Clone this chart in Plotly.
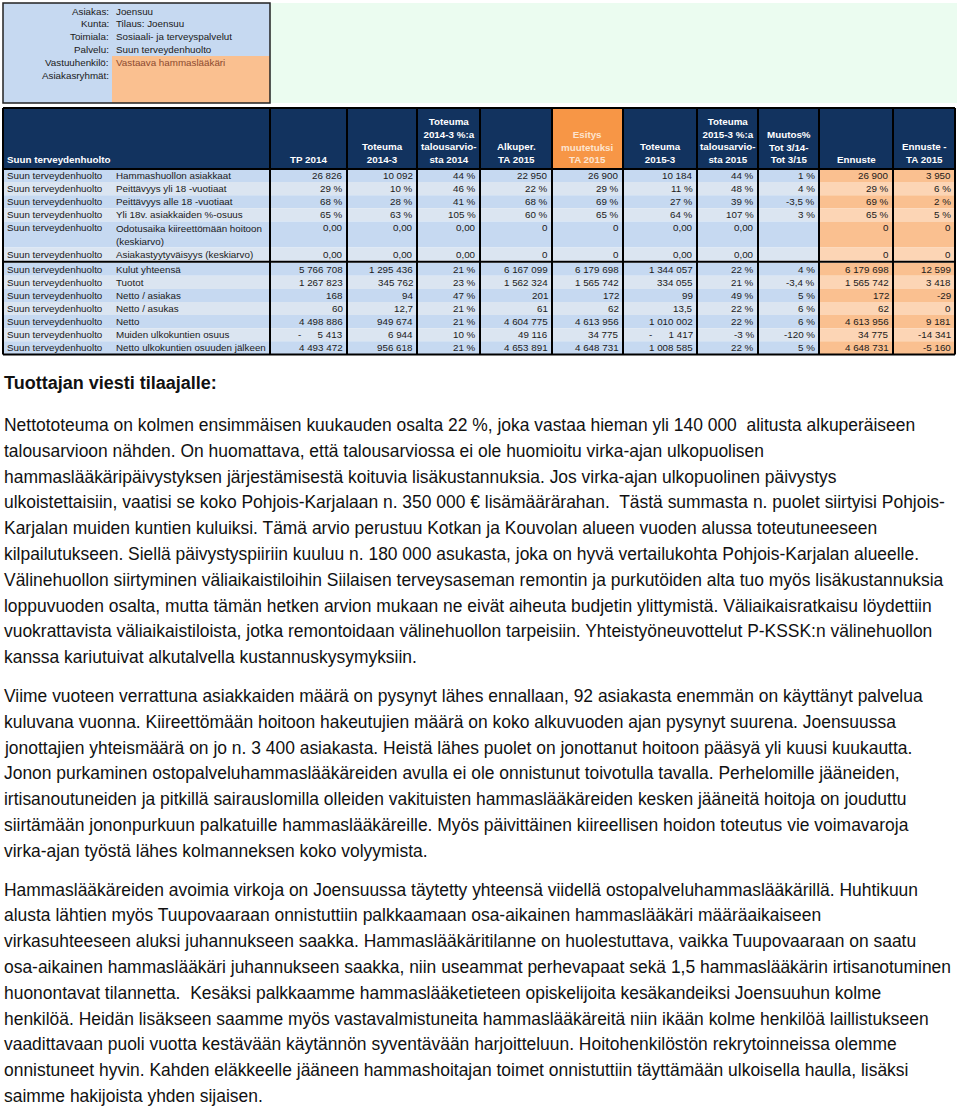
import plotly.graph_objects as go

# ---------------- data ----------------
info_labels = ["Asiakas:", "Kunta:", "Toimiala:", "Palvelu:", "Vastuuhenkilö:", "Asiakasryhmät:"]
info_values = ["Joensuu", "Tilaus: Joensuu", "Sosiaali- ja terveyspalvelut",
               "Suun terveydenhuolto", "Vastaava hammaslääkäri", ""]

headers = [
    "Suun terveydenhuolto",
    "TP 2014",
    "Toteuma<br>2014-3",
    "Toteuma<br>2014-3 %:a<br>talousarvio-<br>sta 2014",
    "Alkuper.<br>TA 2015",
    "Esitys<br>muutetuksi<br>TA 2015",
    "Toteuma<br>2015-3",
    "Toteuma<br>2015-3 %:a<br>talousarvio-<br>sta 2015",
    "Muutos%<br>Tot 3/14-<br>Tot 3/15",
    "Ennuste",
    "Ennuste -<br>TA 2015",
]

service = "Suun terveydenhuolto"
indicators = [
    "Hammashuollon asiakkaat",
    "Peittävyys yli 18 -vuotiaat",
    "Peittävyys alle 18 -vuotiaat",
    "Yli 18v. asiakkaiden %-osuus",
    "Odotusaika kiireettömään hoitoon<br>(keskiarvo)",
    "Asiakastyytyväisyys (keskiarvo)",
    "Kulut yhteensä",
    "Tuotot",
    "Netto / asiakas",
    "Netto / asukas",
    "Netto",
    "Muiden ulkokuntien osuus",
    "Netto ulkokuntien osuuden jälkeen",
]

NB = "\u00a0"
tp_2014 = ["26 826", "29 %", "68 %", "65 %", "0,00", "0,00", "5 766 708", "1 267 823",
           "168", "60", "4 498 886", "-" + NB * 6 + "5 413", "4 493 472"]
tot_2014_3 = ["10 092", "10 %", "28 %", "63 %", "0,00", "0,00", "1 295 436", "345 762",
              "94", "12,7", "949 674", "6 944", "956 618"]
pct_2014 = ["44 %", "46 %", "41 %", "105 %", "0,00", "0,00", "21 %", "23 %",
            "47 %", "21 %", "21 %", "10 %", "21 %"]
alkuper_ta_2015 = ["22 950", "22 %", "68 %", "60 %", "0", "0", "6 167 099", "1 562 324",
                   "201", "61", "4 604 775", "49 116", "4 653 891"]
esitys_ta_2015 = ["26 900", "29 %", "69 %", "65 %", "0", "0", "6 179 698", "1 565 742",
                  "172", "62", "4 613 956", "34 775", "4 648 731"]
tot_2015_3 = ["10 184", "11 %", "27 %", "64 %", "0,00", "0,00", "1 344 057", "334 055",
              "99", "13,5", "1 010 002", "-" + NB * 6 + "1 417", "1 008 585"]
pct_2015 = ["44 %", "48 %", "39 %", "107 %", "0,00", "0,00", "22 %", "21 %",
            "49 %", "22 %", "22 %", "-3 %", "22 %"]
muutos = ["1 %", "4 %", "-3,5 %", "3 %", "", "", "4 %", "-3,4 %",
          "5 %", "6 %", "6 %", "-120 %", "5 %"]
ennuste = ["26 900", "29 %", "69 %", "65 %", "0", "0", "6 179 698", "1 565 742",
           "172", "62", "4 613 956", "34 775", "4 648 731"]
ennuste_ta_2015 = ["3 950", "6 %", "2 %", "5 %", "0", "0", "12 599", "3 418",
                   "-29", "0", "9 181", "-14 341", "-5 160"]

value_columns = [tp_2014, tot_2014_3, pct_2014, alkuper_ta_2015, esitys_ta_2015,
                 tot_2015_3, pct_2015, muutos, ennuste, ennuste_ta_2015]

message_title = "Tuottajan viesti tilaajalle:"
message_lines = [
    "Nettototeuma on kolmen ensimmäisen kuukauden osalta 22 %, joka vastaa hieman yli 140 000  alitusta alkuperäiseen",
    "talousarvioon nähden. On huomattava, että talousarviossa ei ole huomioitu virka-ajan ulkopuolisen",
    "hammaslääkäripäivystyksen järjestämisestä koituvia lisäkustannuksia. Jos virka-ajan ulkopuolinen päivystys",
    "ulkoistettaisiin, vaatisi se koko Pohjois-Karjalaan n. 350 000 € lisämäärärahan.  Tästä summasta n. puolet siirtyisi Pohjois-",
    "Karjalan muiden kuntien kuluiksi. Tämä arvio perustuu Kotkan ja Kouvolan alueen vuoden alussa toteutuneeseen",
    "kilpailutukseen. Siellä päivystyspiiriin kuuluu n. 180 000 asukasta, joka on hyvä vertailukohta Pohjois-Karjalan alueelle.",
    "Välinehuollon siirtyminen väliaikaistiloihin Siilaisen terveysaseman remontin ja purkutöiden alta tuo myös lisäkustannuksia",
    "loppuvuoden osalta, mutta tämän hetken arvion mukaan ne eivät aiheuta budjetin ylittymistä. Väliaikaisratkaisu löydettiin",
    "vuokrattavista väliaikaistiloista, jotka remontoidaan välinehuollon tarpeisiin. Yhteistyöneuvottelut P-KSSK:n välinehuollon",
    "kanssa kariutuivat alkutalvella kustannuskysymyksiin.",
    "",
    "Viime vuoteen verrattuna asiakkaiden määrä on pysynyt lähes ennallaan, 92 asiakasta enemmän on käyttänyt palvelua",
    "kuluvana vuonna. Kiireettömään hoitoon hakeutujien määrä on koko alkuvuoden ajan pysynyt suurena. Joensuussa",
    "jonottajien yhteismäärä on jo n. 3 400 asiakasta. Heistä lähes puolet on jonottanut hoitoon pääsyä yli kuusi kuukautta.",
    "Jonon purkaminen ostopalveluhammaslääkäreiden avulla ei ole onnistunut toivotulla tavalla. Perhelomille jääneiden,",
    "irtisanoutuneiden ja pitkillä sairauslomilla olleiden vakituisten hammaslääkäreiden kesken jääneitä hoitoja on jouduttu",
    "siirtämään jononpurkuun palkatuille hammaslääkäreille. Myös päivittäinen kiireellisen hoidon toteutus vie voimavaroja",
    "virka-ajan työstä lähes kolmanneksen koko volyymista.",
    "",
    "Hammaslääkäreiden avoimia virkoja on Joensuussa täytetty yhteensä viidellä ostopalveluhammaslääkärillä. Huhtikuun",
    "alusta lähtien myös Tuupovaaraan onnistuttiin palkkaamaan osa-aikainen hammaslääkäri määräaikaiseen",
    "virkasuhteeseen aluksi juhannukseen saakka. Hammaslääkäritilanne on huolestuttava, vaikka Tuupovaaraan on saatu",
    "osa-aikainen hammaslääkäri juhannukseen saakka, niin useammat perhevapaat sekä 1,5 hammaslääkärin irtisanotuminen",
    "huonontavat tilannetta.  Kesäksi palkkaamme hammaslääketieteen opiskelijoita kesäkandeiksi Joensuuhun kolme",
    "henkilöä. Heidän lisäkseen saamme myös vastavalmistuneita hammaslääkäreitä niin ikään kolme henkilöä laillistukseen",
    "vaadittavaan puoli vuotta kestävään käytännön syventävään harjoitteluun. Hoitohenkilöstön rekrytoinneissa olemme",
    "onnistuneet hyvin. Kahden eläkkeelle jääneen hammashoitajan toimet onnistuttiin täyttämään ulkoisella haulla, lisäksi",
    "saimme hakijoista yhden sijaisen.",
]

# ---------------- layout / style ----------------
W, H = 960, 1106
FONT = "Liberation Sans, Arial, sans-serif"
NAVY = "#12335f"
BLUE_DARK, BLUE_LIGHT = "#c6d9f1", "#dbe5f1"
ORANGE_DARK, ORANGE_LIGHT = "#fac090", "#fcd5b5"
TEXT = "#1a1a1a"

col_edges = [3, 112, 270, 347, 417, 480, 552, 623, 697, 758, 819, 893, 955]
header_top, header_bottom = 108, 169
unit = 13.1
block_break = 5          # separator after this row
row_lines = [ind.count("<br>") + 1 for ind in indicators]

shapes = []
annotations = []


def rect(x0, y0, x1, y1, fill):
    shapes.append(dict(type="rect", xref="x", yref="y", x0=x0, y0=y0, x1=x1, y1=y1,
                       fillcolor=fill, line=dict(width=0), layer="below"))


def hline(x0, x1, y, color="black", width=2):
    shapes.append(dict(type="line", xref="x", yref="y", x0=x0, x1=x1, y0=y, y1=y,
                       line=dict(color=color, width=width), layer="above"))


def vline(x, y0, y1, color="black", width=2):
    shapes.append(dict(type="line", xref="x", yref="y", x0=x, x1=x, y0=y0, y1=y1,
                       line=dict(color=color, width=width), layer="above"))


def text(x, y, s, size=9.8, color=TEXT, xanchor="left", yanchor="middle",
         bold=False, align="left"):
    annotations.append(dict(xref="x", yref="y", x=x, y=y, text=f"<b>{s}</b>" if bold else s,
                            showarrow=False, xanchor=xanchor, yanchor=yanchor, align=align,
                            font=dict(size=size, color=color, family=FONT)))


# info box
info_top, info_bottom = 3, 103
info_row = 12.9
rect(270, info_top, 957, info_bottom, "#ebfcf0")
rect(col_edges[0], info_top, 270, info_bottom, BLUE_DARK)
orange_top = info_top + 4 * info_row + 1.5
rect(col_edges[1], orange_top, 270, info_bottom, ORANGE_DARK)
shapes.append(dict(type="rect", xref="x", yref="y", x0=col_edges[0], y0=info_top, x1=270,
                   y1=info_bottom, line=dict(color="#222222", width=1.5), layer="above"))
for i, (lab, val) in enumerate(zip(info_labels, info_values)):
    yc = info_top + 8 + i * info_row
    text(col_edges[1] - 1, yc, lab, xanchor="right")
    text(col_edges[1] + 2, yc, val, color="#8c4a2f" if i == 4 else TEXT)

# header
rect(col_edges[0], header_top, col_edges[-1], header_bottom, NAVY)
rect(col_edges[6], header_top, col_edges[7], header_bottom, "#f79646")
text(col_edges[0] + 2, header_bottom - 2, headers[0], color="white", bold=True,
     yanchor="bottom")
for j, h in enumerate(headers[1:]):
    x0, x1 = col_edges[j + 2], col_edges[j + 3]
    text((x0 + x1) / 2, header_bottom - 2, h, color="#fde4cf" if j == 4 else "white",
         bold=True, xanchor="center", yanchor="bottom", align="center")

# rows
tops = []
y = header_bottom
for i, n in enumerate(row_lines):
    tops.append(y)
    y += n * unit
    if i == block_break:
        y += 2
table_bottom = y
sep_y = tops[block_break + 1] - 1

for i, ind in enumerate(indicators):
    t, b = tops[i], tops[i] + row_lines[i] * unit
    dark = i % 2 == 0
    rect(col_edges[0], t, col_edges[10], b, BLUE_DARK if dark else BLUE_LIGHT)
    rect(col_edges[10], t, col_edges[12], b, ORANGE_DARK if dark else ORANGE_LIGHT)
    yc = t + unit / 2
    text(col_edges[0] + 2, yc, service)
    if row_lines[i] > 1:
        text(col_edges[1] + 2, t, ind, yanchor="top")
    else:
        text(col_edges[1] + 2, yc, ind)
    for j, col in enumerate(value_columns):
        text(col_edges[j + 3] - 2, yc, col[i], xanchor="right")

# borders
for x in col_edges[2:-1]:
    vline(x, header_top, table_bottom)
vline(col_edges[0], header_top, table_bottom)
vline(col_edges[-1], header_top, table_bottom)
for yy in (header_top, header_bottom, sep_y, table_bottom):
    hline(col_edges[0], col_edges[-1], yy)

# message
text(2, 383, message_title, size=18, color="#111111", bold=True)
line_y = 425
for line in message_lines:
    if line:
        text(2, line_y, line, size=17.45, color="#111111")
    line_y += 25.8 if line else 13

fig = go.Figure()
fig.update_layout(
    width=W, height=H,
    margin=dict(l=0, r=0, t=0, b=0),
    paper_bgcolor="white", plot_bgcolor="white",
    xaxis=dict(range=[0, W], visible=False, fixedrange=True),
    yaxis=dict(range=[H, 0], visible=False, fixedrange=True),
    shapes=shapes, annotations=annotations, showlegend=False,
)
fig.write_html("out.html", config={"displayModeBar": False},
               post_script="document.body.style.margin='0';document.body.style.overflow='hidden';")
